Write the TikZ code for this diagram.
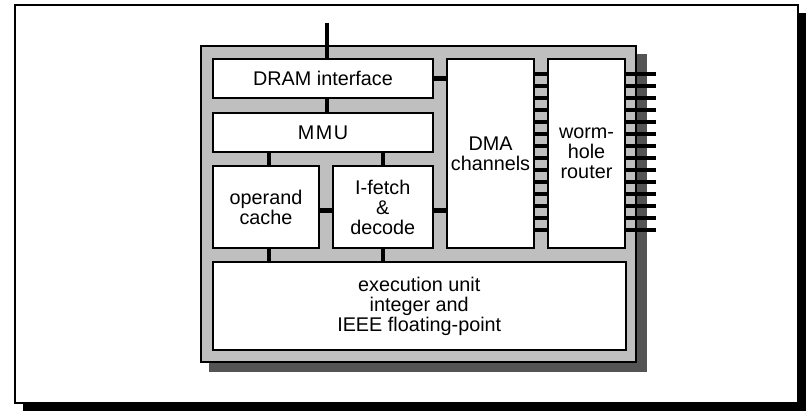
\documentclass[tikz,border=0pt]{standalone}
\usepackage{fontspec}
\setmainfont{Liberation Sans}
\begin{document}
\begin{tikzpicture}[x=1pt,y=-1pt,
  unit/.style={draw=black, fill=white, line width=2pt, inner sep=0pt,
    align=center, anchor=north west,
    font=\fontsize{19.8}{20}\selectfont},
  bus/.style={line width=4.5pt, line cap=butt},
  rung/.style={line width=3.3pt, line cap=butt}]
\useasboundingbox (0,0) rectangle (808,411);

% page frame with its drop shadow
\fill[black] (23,13) rectangle (806,411);
\node[draw=black, fill=white, line width=2pt, inner sep=0pt, anchor=north west,
  minimum width=782.5pt, minimum height=398pt] (frame) at (14,4) {};

% chip outline with its shadow
\fill[black!67] (209,54) rectangle (647,372);
\node[draw=black, fill=black!25, line width=2pt, inner sep=0pt, anchor=north west,
  minimum width=435pt, minimum height=316pt] (chip) at (200,45) {};

% functional units
\node[unit, minimum width=220pt, minimum height=39.5pt] (dram) at (212,58) {DRAM interface};
\node[unit, minimum width=220pt, minimum height=39.5pt] (mmu) at (212,112) {M\kern1.5pt M\kern1.5pt U};
\node[unit, minimum width=106pt, minimum height=82pt] (operand) at (212,165.5) {operand\\cache};
\node[unit, minimum width=100.5pt, minimum height=82pt] (ifetch) at (331.5,165.5) {I-fetch\\\&\\decode};
\node[unit, minimum width=87pt, minimum height=189.5pt] (dma) at (446,58) {DMA\\channels};
\node[unit, minimum width=77pt, minimum height=189.5pt] (router) at (547,58) {worm-\\hole\\router};
\node[unit, minimum width=412.5pt, minimum height=87pt] (exec) at (212,261.5) {execution unit\\integer and\\IEEE floating-point};

% external memory bus
\coordinate (membus) at (327,23);
\draw[bus] (membus) -- (membus |- dram.north);
\draw[bus] (membus |- dram.south) -- (membus |- mmu.north);

% internal connections
\draw[bus] (dram.east) -- (dram.east -| dma.west);
\draw[bus] ([xshift=3pt]operand.north) -- ([xshift=3pt]operand.north |- mmu.south);
\draw[bus] (ifetch.north) -- (ifetch.north |- mmu.south);
\draw[bus] ([yshift=-3pt]operand.east) -- ([yshift=-3pt]operand.east -| ifetch.west);
\draw[bus] ([yshift=-3pt]ifetch.east) -- ([yshift=-3pt]ifetch.east -| dma.west);
\draw[bus] ([xshift=3pt]operand.south) -- ([xshift=3pt]operand.south |- exec.north);
\draw[bus] (ifetch.south) -- (ifetch.south |- exec.north);

% channel links and router ports
\foreach \k in {0,...,13} {
  \pgfmathsetmacro{\yy}{74+12*\k}
  \coordinate (port\k) at (656,\yy);
  \draw[rung] (dma.east |- port\k) -- (router.west |- port\k);
  \draw[rung] (router.east |- port\k) -- (port\k);
}
\end{tikzpicture}
\end{document}
